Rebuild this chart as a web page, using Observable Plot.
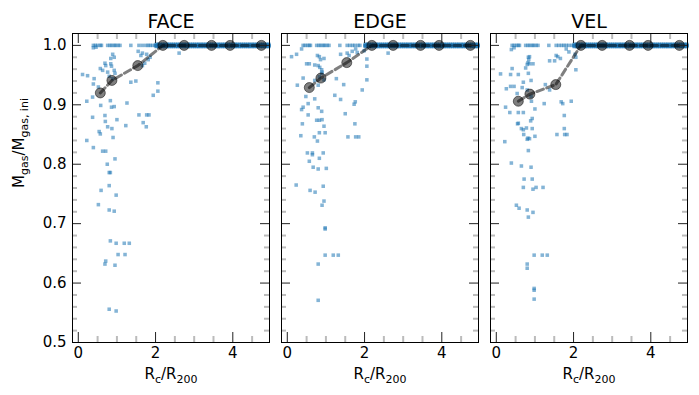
<!DOCTYPE html>
<html><head><meta charset="utf-8">
<script src="https://cdn.jsdelivr.net/npm/d3@7"></script>
<script src="https://cdn.jsdelivr.net/npm/@observablehq/plot@0.6"></script>
<style>body{margin:0;background:#fff} #chart{width:699px;height:395px} #chart text{font-weight:normal !important}</style>
</head><body><div id="chart"></div>
<script>
const panels = ["FACE", "EDGE", "VEL"];

const faceX = [0.39,0.44,0.50,0.57,0.60,0.76,0.82,0.87,0.93,0.97,1.03,1.08,1.36,1.57,1.66,1.75,1.81,1.86,1.92,1.99,
  0.39,0.46,0.89,0.93,0.84,1.55,1.66,1.77,1.62,1.86,1.81,1.72,1.66,0.69,0.71,0.84,0.86,0.57,0.63,0.76,0.93,0.95,
  0.11,0.24,0.41,0.80,0.89,0.39,0.52,1.36,1.49,2.06,2.06,1.94,0.22,0.37,0.58,0.83,0.86,0.93,1.26,0.37,0.69,1.00,
  0.70,1.57,1.68,1.77,1.83,1.76,0.54,0.57,0.76,0.87,1.23,0.90,0.22,0.39,0.63,0.71,0.95,0.75,0.80,0.83,0.80,0.59,
  0.98,0.52,0.80,0.93,0.83,0.98,1.19,1.32,1.03,1.21,0.71,0.69,0.95,0.80,0.98,2.61];
const faceY = [1,1,1,1,1,1,1,1,1,1,1,1,1,1,1,1,1,1,1,1,
  0.996,0.997,0.985,0.980,0.978,0.990,0.987,0.985,0.983,0.980,0.976,0.970,0.966,0.970,0.966,0.969,0.965,0.961,0.958,0.955,0.958,0.953,
  0.951,0.949,0.944,0.948,0.944,0.935,0.930,0.938,0.940,0.937,0.923,0.916,0.906,0.913,0.899,0.907,0.896,0.897,0.903,0.879,0.882,0.875,
  0.872,0.883,0.870,0.883,0.883,0.863,0.855,0.851,0.863,0.860,0.865,0.845,0.840,0.828,0.822,0.822,0.809,0.800,0.786,0.786,0.764,0.756,
  0.748,0.732,0.723,0.721,0.671,0.667,0.667,0.667,0.648,0.648,0.637,0.632,0.630,0.556,0.553,0.987];

const edgeX = [0.41,0.46,0.52,0.57,0.60,0.76,0.82,0.87,0.93,0.97,1.03,1.08,1.36,1.55,1.62,1.69,1.75,1.83,1.88,
  0.37,0.24,0.11,0.78,0.83,0.86,0.95,1.55,1.60,1.68,1.77,1.81,1.99,2.06,0.50,0.57,0.71,0.80,0.84,0.89,0.90,1.38,
  2.06,0.41,0.89,0.83,0.71,0.80,0.95,0.26,1.27,1.46,2.06,1.94,0.48,1.23,1.38,0.71,0.54,0.41,0.37,0.80,0.89,1.73,
  1.76,0.54,1.50,0.83,0.76,0.90,0.39,1.75,0.95,0.83,0.98,0.35,0.70,1.57,1.77,1.85,0.78,0.52,0.65,0.93,0.65,0.57,
  0.83,0.67,0.80,1.01,0.23,0.93,0.59,0.72,0.95,0.90,0.98,0.98,0.98,1.19,1.32,0.80,0.80,2.61];
const edgeY = [1,1,1,1,1,1,1,1,1,1,1,1,1,1,1,1,1,1,1,
  0.994,0.985,0.981,0.983,0.981,0.976,0.978,0.987,0.983,0.990,0.994,0.988,0.991,0.977,0.969,0.969,0.967,0.966,0.963,0.959,0.955,0.985,
  0.965,0.945,0.953,0.947,0.941,0.933,0.942,0.933,0.944,0.934,0.942,0.925,0.914,0.916,0.909,0.910,0.902,0.896,0.892,0.895,0.889,0.901,
  0.905,0.883,0.885,0.874,0.874,0.875,0.868,0.868,0.864,0.853,0.853,0.848,0.846,0.846,0.846,0.846,0.839,0.819,0.819,0.819,0.816,0.805,
  0.810,0.795,0.792,0.793,0.765,0.763,0.756,0.753,0.738,0.731,0.693,0.691,0.647,0.647,0.647,0.632,0.571,0.987];

const velX = [0.41,0.46,0.52,0.57,0.60,0.76,0.82,0.87,0.93,0.97,1.03,1.08,1.36,1.55,1.62,1.69,1.75,1.81,1.88,1.96,
  0.39,0.46,0.83,0.86,0.84,0.82,1.55,1.66,1.59,1.81,1.88,2.06,2.04,1.38,1.51,0.80,0.86,0.95,0.76,0.83,0.41,0.57,
  0.37,0.11,2.06,0.70,0.90,0.37,0.46,0.26,0.67,0.80,0.54,0.90,0.91,1.38,1.27,1.24,1.00,0.24,0.35,0.57,0.70,1.68,
  1.72,1.94,0.93,0.89,0.57,0.55,1.76,0.65,0.70,0.78,0.93,0.71,1.00,0.82,0.80,0.86,1.76,1.57,1.77,1.83,0.22,0.83,
  0.39,0.65,0.90,0.72,0.93,0.70,0.95,1.03,1.21,0.52,0.59,0.80,0.95,0.83,0.98,1.19,1.32,0.80,0.80,0.98,0.98,0.98];
const velY = [1,1,1,1,1,1,1,1,1,1,1,1,1,1,1,1,1,1,1,1,
  0.993,0.996,0.980,0.981,0.976,0.971,0.983,0.978,0.981,0.994,0.989,0.980,0.985,0.974,0.974,0.968,0.969,0.969,0.962,0.953,0.961,0.951,
  0.951,0.952,0.959,0.938,0.941,0.931,0.931,0.927,0.929,0.925,0.919,0.914,0.906,0.925,0.934,0.902,0.893,0.896,0.887,0.887,0.887,0.905,
  0.902,0.906,0.877,0.873,0.869,0.868,0.882,0.860,0.858,0.861,0.860,0.850,0.847,0.844,0.842,0.843,0.860,0.850,0.850,0.850,0.838,0.823,
  0.802,0.797,0.795,0.775,0.775,0.761,0.758,0.761,0.761,0.731,0.726,0.723,0.719,0.711,0.647,0.647,0.647,0.632,0.625,0.591,0.588,0.573];

// dense band of unaffected clouds at M/M_ini = 1 (shared by all panels; repeated values = overlapping clouds)
const bandX = [2.02,2.08,2.13,2.19,2.24,2.30,2.35,2.41,2.46,2.52,2.57,2.63,2.68,2.74,2.79,2.85,2.90,2.96,3.01,3.07,
  3.12,3.18,3.23,3.29,3.34,3.40,3.45,3.51,3.56,3.62,3.67,3.73,3.78,3.84,3.89,3.95,4.00,4.06,4.11,4.17,4.22,4.28,
  4.33,4.39,4.44,4.50,4.55,4.61,4.66,4.72,4.77,4.83,4.88,4.93];
const bandY = [1.002, 1.0, 1.0, 1.0, 0.999, 0.998];

const medX = [0.57,0.87,1.54,2.19,2.74,3.45,3.93,4.74];
const faceMed = [0.920,0.941,0.966,1,1,1,1,1];
const edgeMed = [0.929,0.945,0.971,1,1,1,1,1];
const velMed = [0.906,0.918,0.934,1,1,1,1,1];

const xMajor = [0,2,4];
const xMinor = [0.5,1,1.5,2.5,3,3.5,4.5];
const yMajor = [0.5,0.6,0.7,0.8,0.9,1.0];
const yMinor = [0.52,0.54,0.56,0.58,0.62,0.64,0.66,0.68,0.72,0.74,0.76,0.78,0.82,0.84,0.86,0.88,0.92,0.94,0.96,0.98];

const rows = [];
const meds = [];
[[panels[0], faceX, faceY, faceMed], [panels[1], edgeX, edgeY, edgeMed], [panels[2], velX, velY, velMed]].forEach(([p, xs, ys, m]) => {
  xs.forEach((x, i) => rows.push({panel: p, x, y: ys[i]}));
  bandY.forEach(y => bandX.forEach(x => rows.push({panel: p, x, y})));
  medX.forEach((x, i) => meds.push({panel: p, x, y: m[i]}));
});

const H = 309, W = 198;
const chart = Plot.plot({
  width: 699, height: 395,
  marginLeft: 71, marginRight: 10, marginTop: 33, marginBottom: 53,
  style: {fontFamily: "DejaVu Sans", background: "white", color: "black"},
  fx: {domain: panels, paddingInner: 0.0571, paddingOuter: 0, label: null},
  x: {domain: [-0.15, 4.95]},
  y: {domain: [0.5, 1.02]},
  marks: [
    Plot.dot(rows, {x: "x", y: "y", fx: "panel", symbol: "square", r: 2, fill: "#1f77b4", fillOpacity: 0.55, stroke: "none"}),
    Plot.line(meds, {x: "x", y: "y", fx: "panel", stroke: "black", strokeOpacity: 0.5, strokeWidth: 3, strokeDasharray: "7,3.5"}),
    Plot.dot(meds, {x: "x", y: "y", fx: "panel", r: 5, fill: "black", fillOpacity: 0.5, stroke: "black", strokeOpacity: 0.5, strokeWidth: 1}),
    Plot.ruleX(xMinor, {insetTop: H - 6, stroke: "#bbb", strokeWidth: 2}),
    Plot.ruleX(xMinor, {insetBottom: H - 6, stroke: "#bbb", strokeWidth: 2}),
    Plot.ruleY(yMinor, {insetRight: W - 6, stroke: "#bbb", strokeWidth: 2}),
    Plot.ruleY(yMinor, {insetLeft: W - 6, stroke: "#bbb", strokeWidth: 2}),
    Plot.ruleX(xMajor, {insetTop: H - 10, stroke: "#222"}),
    Plot.ruleX(xMajor, {insetBottom: H - 10, stroke: "#222"}),
    Plot.ruleY(yMajor, {insetRight: W - 10, stroke: "#222"}),
    Plot.ruleY(yMajor, {insetLeft: W - 10, stroke: "#222"}),
    Plot.frame({stroke: "black"}),
    Plot.axisFx({anchor: "top", tickSize: 0, fontSize: 19, label: null, tickPadding: 6}),
    Plot.axisY({ticks: yMajor, tickSize: 0, tickFormat: d3.format(".1f"), fontSize: 15, label: null, tickPadding: 6}),
    Plot.axisX({ticks: xMajor, tickSize: 0, tickFormat: d => d, fontSize: 15, label: null, tickPadding: 5}),
    Plot.text(panels, {fx: d => d, frameAnchor: "bottom", dy: 36, text: () => "XLABEL", fontSize: 15}),
    Plot.text([panels[0]], {fx: d => d, frameAnchor: "left", dx: -53, rotate: -90, text: () => "YLABEL", fontSize: 15})
  ]
});
document.getElementById("chart").appendChild(chart);

function sub(t, parts) {
  t.text(null);
  parts.forEach(([s, isSub], i) => {
    const prev = i > 0 ? parts[i - 1][1] : false;
    const ts = t.append("tspan").text(s);
    if (isSub) { ts.attr("font-size", 11); if (!prev) ts.attr("dy", 4); }
    else if (prev) ts.attr("dy", -4);
  });
}
d3.select(chart).selectAll("text").each(function () {
  const c = this.textContent;
  if (c === "XLABEL") sub(d3.select(this), [["R", false], ["c", true], ["/R", false], ["200", true]]);
  if (c === "YLABEL") sub(d3.select(this), [["M", false], ["gas", true], ["/M", false], ["gas, ini", true]]);
});
</script>
</body></html>
